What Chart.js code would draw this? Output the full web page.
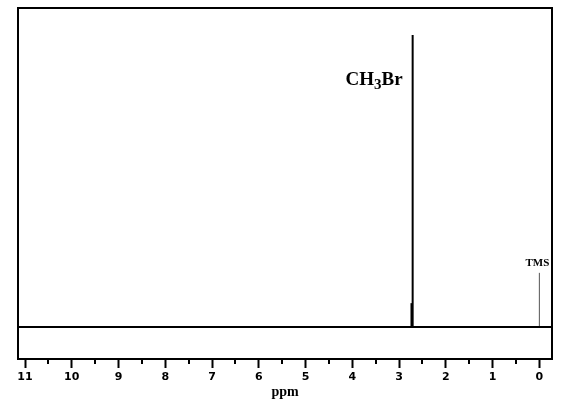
<!DOCTYPE html>
<html>
<head>
<meta charset="utf-8">
<script src="https://cdn.jsdelivr.net/npm/chart.js@4/dist/chart.umd.min.js"></script>
<style>
  html, body { margin: 0; padding: 0; background: #fff; }
  canvas { display: block; }
</style>
</head>
<body>
<canvas id="chart1" width="564" height="414"></canvas>
<script>
// spectrum data (ppm, relative intensity)
var ppmRange = [-0.27, 11.15];
var intensityRange = [-10, 100];
var peakPpm = [2.71, 0.0];
var peakHeight = [91.5, 17];
var peakNames = ["CH3Br", "TMS"];
var shoulderPpm = [2.735];
var shoulderHeight = [7.5];

function stick(x, h) {
  return [{x: x, y: 0}, {x: x, y: h}];
}

// frame, minor ticks and peak labels
var spectrumDecor = {
  id: 'spectrumDecor',
  afterDraw: function(chart) {
    var ctx = chart.ctx;
    var a = chart.chartArea;
    var xs = chart.scales.x;
    var ys = chart.scales.y;
    ctx.save();
    ctx.strokeStyle = '#000';
    ctx.lineWidth = 2;
    ctx.strokeRect(a.left, a.top, a.right - a.left, a.bottom - a.top);

    // half-ppm ticks
    ctx.lineWidth = 2;
    for (var v = 0.5; v < ppmRange[1]; v += 1) {
      var px = Math.round(xs.getPixelForValue(v));
      ctx.beginPath();
      ctx.moveTo(px, a.bottom);
      ctx.lineTo(px, a.bottom + 5);
      ctx.stroke();
    }

    // CH3Br label with subscript
    var x1 = xs.getPixelForValue(peakPpm[0]) - 10;
    var y1 = ys.getPixelForValue(peakHeight[0]) + 50;
    ctx.fillStyle = '#000';
    ctx.textBaseline = 'alphabetic';
    ctx.textAlign = 'left';
    ctx.font = 'bold 19px "Liberation Serif"';
    var wCH = ctx.measureText('CH').width;
    var wBr = ctx.measureText('Br').width;
    ctx.font = 'bold 15px "Liberation Serif"';
    var w3 = ctx.measureText('3').width;
    var start = x1 - (wCH + w3 + wBr);
    ctx.font = 'bold 19px "Liberation Serif"';
    ctx.fillText('CH', start, y1);
    ctx.font = 'bold 15px "Liberation Serif"';
    ctx.fillText('3', start + wCH, y1 + 4);
    ctx.font = 'bold 19px "Liberation Serif"';
    ctx.fillText('Br', start + wCH + w3, y1);

    // TMS label
    ctx.font = 'bold 11px "Liberation Serif"';
    ctx.textAlign = 'center';
    ctx.fillText(peakNames[1], xs.getPixelForValue(peakPpm[1]) - 2, ys.getPixelForValue(peakHeight[1]) - 7);
    ctx.restore();
  }
};

var chartNmr = document.getElementById("chart1").getContext('2d');
var myChart = new Chart(chartNmr, {
  type: 'scatter',
  data: {
    datasets: [
      { data: [{x: ppmRange[0], y: 0}, {x: ppmRange[1], y: 0}], borderColor: '#000', borderWidth: 2 },
      { data: stick(peakPpm[0], peakHeight[0]), borderColor: '#000', borderWidth: 2 },
      { data: stick(shoulderPpm[0], shoulderHeight[0]), borderColor: '#000', borderWidth: 2 },
      { data: stick(peakPpm[1], peakHeight[1]), borderColor: '#555', borderWidth: 1 }
    ]
  },
  options: {
    responsive: false,
    animation: false,
    showLine: true,
    elements: { point: { radius: 0, hoverRadius: 0 } },
    layout: { padding: { left: 18, right: 12, top: 8, bottom: 13 } },
    plugins: { legend: { display: false }, tooltip: { enabled: false } },
    scales: {
      x: {
        type: 'linear',
        reverse: true,
        min: ppmRange[0],
        max: ppmRange[1],
        border: { display: false },
        grid: { drawOnChartArea: false, drawTicks: true, tickLength: 9, tickWidth: 2, tickColor: '#000' },
        ticks: {
          stepSize: 1,
          includeBounds: false,
          maxRotation: 0,
          autoSkip: false,
          padding: 3,
          color: '#000',
          font: { family: 'DejaVu Sans', weight: 'bold', size: 11 }
        },
        title: {
          display: true,
          text: 'ppm',
          color: '#000',
          padding: { top: -3, bottom: 0 },
          font: { family: 'Liberation Serif', weight: 'bold', size: 14 }
        }
      },
      y: {
        display: false,
        min: intensityRange[0],
        max: intensityRange[1]
      }
    }
  },
  plugins: [spectrumDecor]
});
</script>
</body>
</html>
